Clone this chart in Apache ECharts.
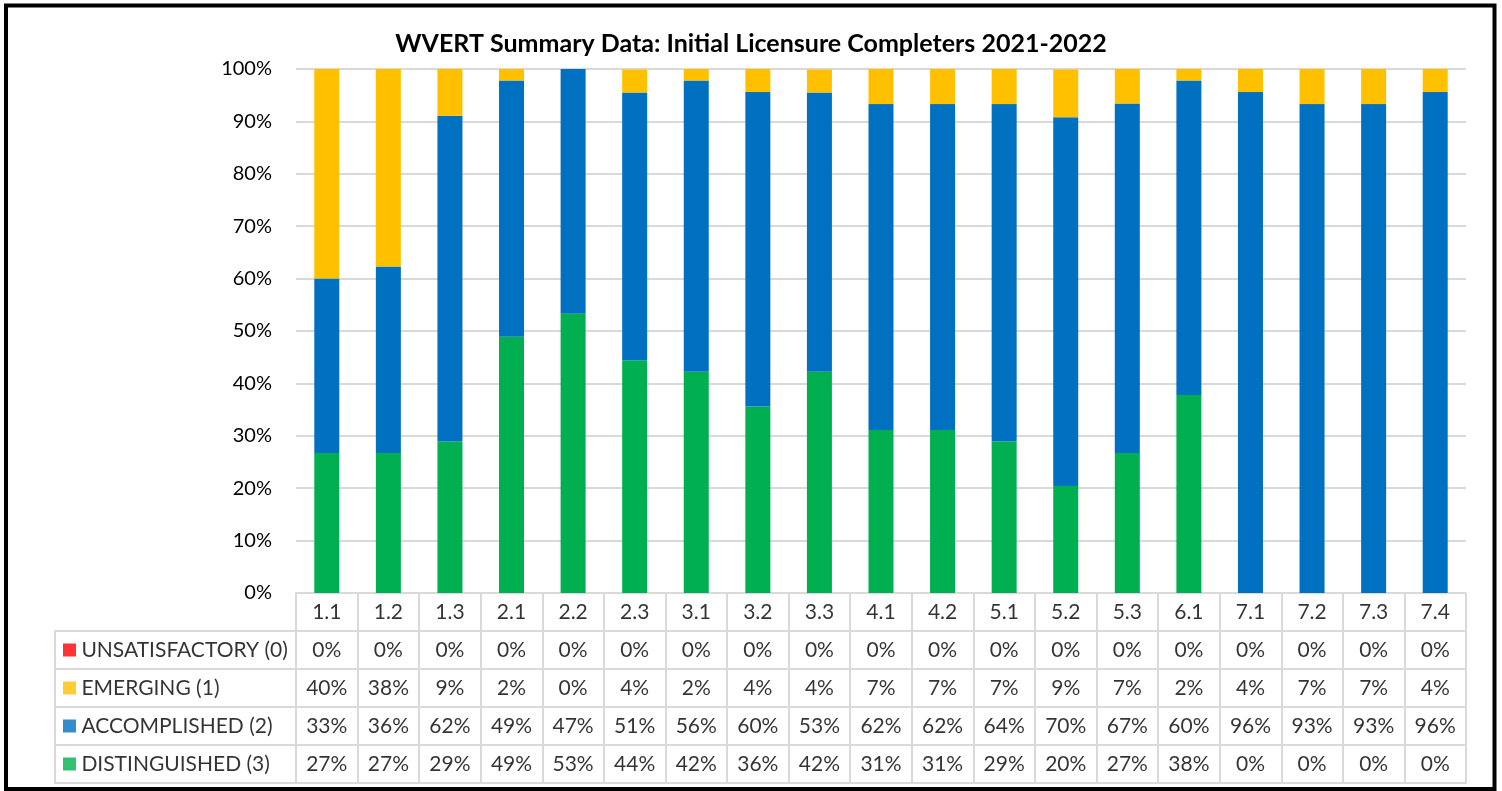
<!DOCTYPE html>
<html>
<head>
<meta charset="utf-8">
<script src="https://cdn.jsdelivr.net/npm/echarts@6/dist/echarts.min.js"></script>
<style>
  html, body { margin: 0; padding: 0; background: #fff; }
  #chart { width: 1502px; height: 791px; }
</style>
</head>
<body>
<div id="chart"></div>
<script>
// data
const categories = ['1.1', '1.2', '1.3', '2.1', '2.2', '2.3', '3.1', '3.2', '3.3', '4.1',
  '4.2', '5.1', '5.2', '5.3', '6.1', '7.1', '7.2', '7.3', '7.4']
const seriesNames = ['UNSATISFACTORY (0)', 'EMERGING (1)', 'ACCOMPLISHED (2)', 'DISTINGUISHED (3)']
const unsatisfactory = [0, 0, 0, 0, 0, 0, 0, 0, 0, 0, 0, 0, 0, 0, 0, 0, 0, 0, 0]
const emerging = [40, 37.8, 8.9, 2.2, 0, 4.4, 2.2, 4.4, 4.4, 6.7, 6.7, 6.7, 9.1, 6.7, 2.2, 4.4, 6.7, 6.7, 4.4]
const accomplished = [33.3, 35.6, 62.2, 48.9, 46.7, 51.1, 55.6, 60, 53.3, 62.2, 62.2, 64.4, 70.4, 66.7, 60, 95.6, 93.3, 93.3, 95.6]
const distinguished = [26.7, 26.7, 28.9, 48.9, 53.3, 44.4, 42.2, 35.6, 42.2, 31.1, 31.1, 28.9, 20.4, 26.7, 37.8, 0, 0, 0, 0]
const yTicks = [0, 10, 20, 30, 40, 50, 60, 70, 80, 90, 100]

const colors = ['#FF0000', '#FFC000', '#0070C0', '#00B050']
const font = 'Lato, "Open Sans", sans-serif'
const lineColor = '#D9D9D9'

const chart = echarts.init(document.getElementById('chart'))

// stacked order: distinguished at bottom, then accomplished, emerging, unsatisfactory on top
const barSeries = [
  { name: seriesNames[3], data: distinguished, color: colors[3] },
  { name: seriesNames[2], data: accomplished, color: colors[2] },
  { name: seriesNames[1], data: emerging, color: colors[1] },
  { name: seriesNames[0], data: unsatisfactory, color: colors[0] }
].map(s => ({
  name: s.name,
  type: 'bar',
  stack: 'total',
  barWidth: 25,
  data: s.data,
  itemStyle: { color: s.color },
  xAxisIndex: 0,
  yAxisIndex: 0,
  z: 3
}))

// table cells
const tableRows = [unsatisfactory, emerging, accomplished, distinguished]
const tableCells = []
categories.forEach((c, i) => tableCells.push([i, 0, c]))
tableRows.forEach((row, r) => {
  row.forEach((v, i) => tableCells.push([i, r + 1, Math.round(v) + '%']))
})
const keyCells = seriesNames.map((n, r) => [0, r, n])

const option = {
  backgroundColor: '#fff',
  animation: false,
  title: {
    text: 'WVERT Summary Data: Initial Licensure Completers 2021-2022',
    left: 'center',
    top: 26,
    textStyle: { fontFamily: font, fontSize: 25, fontWeight: 'bold', color: '#000' }
  },
  graphic: [{
    type: 'rect',
    shape: { x: 6, y: 5.5, width: 1488.5, height: 783.5 },
    style: { fill: 'none', stroke: '#000', lineWidth: 4 },
    z: 100
  }],
  grid: [
    { left: 296, right: 36, top: 69, height: 524 },
    { left: 296, right: 36, top: 593, bottom: 8 },
    { left: 55, right: 1206, top: 631, bottom: 8 }
  ],
  xAxis: [
    {
      type: 'category', gridIndex: 0, data: categories,
      axisLine: { show: false }, axisTick: { show: false }, axisLabel: { show: false }
    },
    {
      type: 'category', gridIndex: 1, data: categories,
      axisLine: { show: true, lineStyle: { color: lineColor, width: 2 } },
      axisTick: { show: false }, axisLabel: { show: false },
      splitLine: { show: true, interval: 0, lineStyle: { color: lineColor, width: 2 } }
    },
    {
      type: 'value', gridIndex: 2, min: 0, max: 1,
      axisLine: { show: true, lineStyle: { color: lineColor, width: 2 } },
      axisTick: { show: false }, axisLabel: { show: false }, splitLine: { show: false }
    }
  ],
  yAxis: [
    {
      type: 'value', gridIndex: 0, min: 0, max: 100, interval: 10,
      axisLine: { show: false }, axisTick: { show: false },
      axisLabel: {
        formatter: '{value}%', fontFamily: font, fontSize: 20, color: '#000', margin: 24,
        customValues: yTicks
      },
      splitLine: { lineStyle: { color: lineColor, width: 2 } }
    },
    {
      type: 'category', gridIndex: 1, inverse: true, data: ['', '', '', '', ''],
      axisLine: { show: true, lineStyle: { color: lineColor, width: 2 } },
      axisTick: { show: false }, axisLabel: { show: false },
      splitLine: { show: true, interval: 0, lineStyle: { color: lineColor, width: 2 } }
    },
    {
      type: 'category', gridIndex: 2, inverse: true, data: ['', '', '', ''],
      axisLine: { show: true, lineStyle: { color: lineColor, width: 2 } },
      axisTick: { show: false }, axisLabel: { show: false },
      splitLine: { show: true, interval: 0, lineStyle: { color: lineColor, width: 2 } }
    }
  ],
  series: [
    ...barSeries,
    {
      type: 'scatter', xAxisIndex: 1, yAxisIndex: 1, symbolSize: 0,
      data: tableCells,
      label: {
        show: true, position: 'inside', formatter: p => p.value[2],
        fontFamily: font, fontSize: 21, color: '#000'
      },
      silent: true
    },
    {
      type: 'scatter', xAxisIndex: 2, yAxisIndex: 2, symbolSize: 0,
      data: keyCells,
      label: {
        show: true, position: 'right', distance: 8,
        formatter: p => '{k' + p.dataIndex + '|}{t| ' + p.value[2] + '}',
        rich: {
          k0: { backgroundColor: colors[0], width: 13, height: 13 },
          k1: { backgroundColor: colors[1], width: 13, height: 13 },
          k2: { backgroundColor: colors[2], width: 13, height: 13 },
          k3: { backgroundColor: colors[3], width: 13, height: 13 },
          t: { fontFamily: font, fontSize: 21, color: '#000' }
        }
      },
      silent: true
    }
  ]
}

chart.setOption(option)
</script>
</body>
</html>
